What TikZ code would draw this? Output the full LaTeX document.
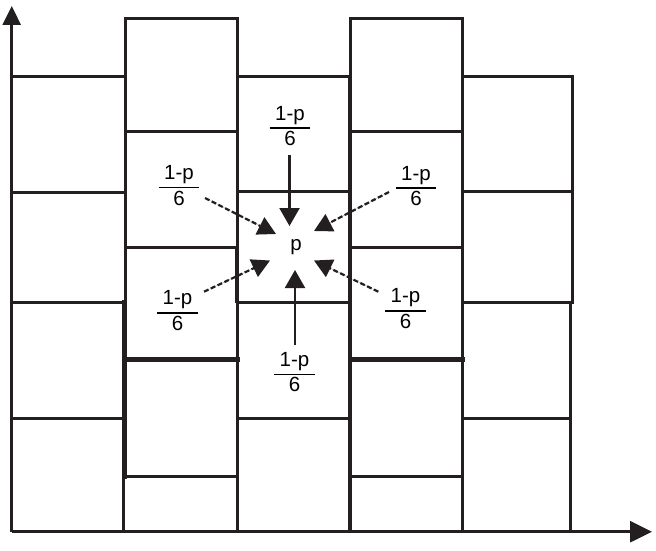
\documentclass[tikz,border=0pt]{standalone}
\usepackage{fontspec}
\setmainfont{Liberation Sans}
\usetikzlibrary{arrows.meta}
\definecolor{ink}{RGB}{35,31,32}
\newcommand{\onemp}{{\setlength{\arrayrulewidth}{1.6pt}\setlength{\tabcolsep}{5.5pt}\begin{tabular}{c}1-p\\\hline 6\end{tabular}}}
\tikzset{
  gridline/.style={line width=3pt, draw=ink, line cap=rect, line join=miter},
  heavyline/.style={line width=5pt, draw=ink, line cap=rect},
  axisline/.style={line width=3pt, draw=ink},
  ytipstyle/.style={-{Triangle[length=19pt,width=18pt]}},
  xtipstyle/.style={-{Triangle[length=22pt,width=21pt]}},
  fraclabel/.style={inner sep=0pt, font=\fontsize{20.5}{24}\selectfont, text=black},
  plabel/.style={inner sep=0pt, font=\fontsize{20.5}{24}\selectfont, text=black},
  solidarrow/.style={line width=2.2pt, draw=ink, fill=ink, -{Triangle[length=18pt,width=20pt]}},
  dasharrow/.style={line width=2.2pt, draw=ink, fill=ink, dash pattern=on 5pt off 2.5pt, -{Triangle[length=18pt,width=19pt]}}
}
\begin{document}
\begin{tikzpicture}[x=1pt,y=-1pt]
\useasboundingbox (0,0) rectangle (656,551);
% column 1
\draw[gridline] (11.7,77) -- (125,77) -- (125,302.5);
\draw[gridline] (11.7,192) -- (125,192);
\draw[gridline] (11.7,302.5) -- (125,302.5);
\draw[gridline] (11.7,418) -- (123,418);
\draw[gridline] (123,302.5) -- (123,531.7);
% column 2
\draw[gridline] (125,77) -- (125,18.3) -- (237,18.3) -- (237,531.7);
\draw[gridline] (125,131.7) -- (237,131.7);
\draw[gridline] (125,247) -- (237,247);
\draw[gridline] (125,476) -- (237,476);
\draw[heavyline] (124,302.5) -- (124,476);
\draw[heavyline] (124,359.5) -- (237,359.5);
% column 3
\draw[gridline] (237,77) -- (350,77);
\draw[gridline] (237,191.7) -- (350,191.7);
\draw[gridline] (237,302.5) -- (350,302.5);
\draw[gridline] (237,418) -- (350,418);
\draw[line width=4.2pt, draw=ink] (237,247) -- (237,302.5);
% column 4
\draw[gridline] (350,77) -- (350,18.3) -- (462,18.3) -- (462,531.7);
\draw[line width=3.6pt, draw=ink] (350,77) -- (350,531.7);
\draw[gridline] (350,131.7) -- (462,131.7);
\draw[gridline] (350,247.5) -- (462,247.5);
\draw[gridline] (350,476) -- (462,476);
\draw[heavyline] (350,359.5) -- (462,359.5);
% column 5
\draw[gridline] (462,77) -- (572,77) -- (572,302.5);
\draw[gridline] (462,191.7) -- (572,191.7);
\draw[gridline] (462,302.5) -- (572,302.5);
\draw[gridline] (570,302.5) -- (570,531.7);
\draw[gridline] (462,418) -- (570,418);
% axes
\coordinate (origin) at (11.7,531.7);
\coordinate (ytip) at (11.7,6);
\coordinate (xtip) at (652,531.7);
\draw[axisline, ytipstyle] (origin) -- (ytip);
\draw[axisline, xtipstyle] (origin) -- (xtip);
% labels
\node[plabel, anchor=base] (p) at (296,250) {p};
\node[fraclabel] (ftop) at (290,128) {\onemp};
\node[fraclabel] (ftl) at (179,187.5) {\onemp};
\node[fraclabel] (ftr) at (416,188) {\onemp};
\node[fraclabel] (fbl) at (177.5,312.7) {\onemp};
\node[fraclabel] (fbr) at (405.5,310.7) {\onemp};
\node[fraclabel] (fbot) at (294.5,374.3) {\onemp};
% arrows
\coordinate (atops) at (289.5,155);
\coordinate (atope) at (289.5,226);
\coordinate (abots) at (295,345);
\coordinate (abote) at (295,270);
\coordinate (atls) at (205,198);
\coordinate (atle) at (276,234);
\coordinate (atrs) at (389,192);
\coordinate (atre) at (314,231);
\coordinate (abls) at (204,291.7);
\coordinate (able) at (270,260.5);
\coordinate (abrs) at (378.3,291.7);
\coordinate (abre) at (314,260.5);
\draw[solidarrow] (atops) -- (atope);
\draw[solidarrow] (abots) -- (abote);
\draw[dasharrow] (atls) -- (atle);
\draw[dasharrow] (atrs) -- (atre);
\draw[dasharrow] (abls) -- (able);
\draw[dasharrow] (abrs) -- (abre);
\end{tikzpicture}
\end{document}
